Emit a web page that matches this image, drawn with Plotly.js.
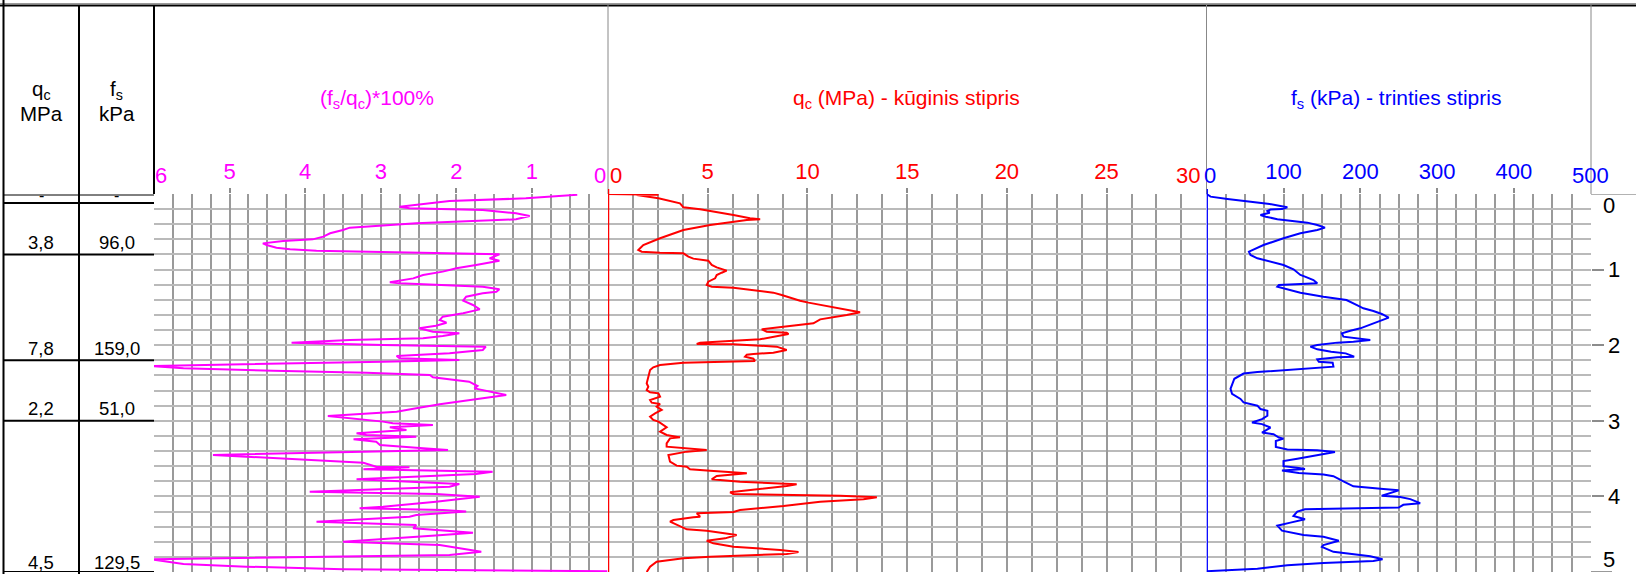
<!DOCTYPE html>
<html><head><meta charset="utf-8">
<script src="https://cdn.plot.ly/plotly-3.0.1.min.js"></script>
<style>html,body{margin:0;padding:0;background:#fff;}#chart{width:1636px;height:574px;}</style>
</head><body><div id="chart"></div>
<script>
// ---------------- DATA ----------------
// friction ratio (fs/qc)*100 %
const ratioDepth = [0.01,0.057,0.093,0.123,0.146,0.168,0.19,0.212,0.256,0.291,
  0.335,0.353,0.388,0.445,0.476,0.52,0.564,0.60,0.622,0.653,
  0.675,0.71,0.732,0.75,0.776,0.798,0.851,0.882,0.939,0.983,
  1.027,1.071,1.116,1.168,1.182,1.204,1.226,1.261,1.292,1.314,
  1.358,1.411,1.468,1.526,1.578,1.623,1.667,1.702,1.742,1.777,
  1.821,1.843,1.878,1.909,1.931,1.966,1.997,2.019,2.063,2.108,
  2.143,2.174,2.196,2.218,2.24,2.275,2.306,2.31,2.337,2.363,
  2.394,2.425,2.482,2.54,2.571,2.637,2.659,2.703,2.76,2.78,
  2.835,2.879,2.937,2.98,3.011,3.033,3.056,3.086,3.122,3.166,
  3.188,3.21,3.245,3.276,3.32,3.364,3.386,3.452,3.474,3.52,
  3.554,3.607,3.616,3.642,3.673,3.704,3.774,3.836,3.871,3.937,
  3.968,4.004,4.07,4.136,4.158,4.18,4.20,4.246,4.268,4.334,
  4.378,4.422,4.48,4.511,4.599,4.643,4.731,4.775,4.832,4.894,
  4.929,4.965,4.99];
const ratioValue = [0.40,1.08,2.09,2.35,2.57,2.75,2.62,1.65,1.21,1.03,
  1.21,1.65,2.53,3.41,3.50,3.67,3.76,3.90,4.29,4.56,
  4.51,4.38,4.20,3.85,2.53,1.43,1.56,1.43,1.74,2.00,
  2.18,2.44,2.57,2.88,2.75,2.09,1.65,1.43,1.47,1.65,
  1.87,1.91,1.78,1.69,1.91,2.18,2.22,2.13,2.27,2.49,
  2.31,1.96,2.18,2.44,3.41,4.18,2.97,1.61,1.65,2.09,
  2.79,2.75,1.96,2.97,4.29,6.05,5.61,5.37,4.42,3.19,
  2.35,2.31,1.83,1.72,1.76,1.47,1.34,1.65,2.09,2.22,
  2.53,2.79,3.70,3.23,2.97,2.84,2.31,2.88,2.66,3.32,
  3.19,2.53,3.36,3.06,3.01,2.44,2.11,5.22,4.82,3.94,
  3.23,3.06,2.62,3.23,1.52,1.74,3.32,1.96,2.09,3.94,
  2.27,1.69,2.27,2.97,3.28,2.18,1.87,2.53,2.62,3.85,
  2.53,2.57,1.78,2.18,3.50,2.22,1.67,2.09,6.05,5.61,
  4.78,3.50,0];

// cone resistance qc (MPa)
const qcDepth = [0,0.01,0.013,0.057,0.123,0.176,0.203,0.278,0.322,0.335,
  0.344,0.41,0.476,0.586,0.675,0.741,0.763,0.776,0.785,0.829,
  0.855,0.882,0.939,0.97,1.014,1.041,1.071,1.116,1.16,1.204,
  1.226,1.239,1.27,1.305,1.336,1.38,1.411,1.437,1.499,1.543,
  1.565,1.601,1.658,1.711,1.742,1.768,1.79,1.821,1.834,1.852,
  1.887,1.922,1.94,1.966,1.984,1.989,2.006,2.019,2.063,2.099,
  2.116,2.125,2.152,2.178,2.209,2.212,2.218,2.231,2.262,2.293,
  2.328,2.416,2.504,2.549,2.593,2.623,2.637,2.681,2.725,2.76,
  2.778,2.813,2.857,2.901,2.945,2.989,3.011,3.086,3.113,3.144,
  3.188,3.219,3.232,3.298,3.342,3.364,3.386,3.408,3.452,3.541,
  3.593,3.607,3.642,3.66,3.695,3.73,3.774,3.805,3.827,3.84,
  3.862,3.915,3.946,3.968,3.977,3.99,4.012,4.039,4.07,4.127,
  4.18,4.206,4.224,4.268,4.277,4.312,4.334,4.378,4.436,4.453,
  4.489,4.511,4.555,4.586,4.621,4.665,4.709,4.735,4.762,4.775,
  4.797,4.819,4.863,4.929,5.0];
const qcValue = [0,2.53,1.44,2.53,3.61,3.78,4.62,6.29,7.12,7.63,
  6.96,5.12,3.78,2.61,1.77,1.52,1.69,2.61,3.78,4.03,
  4.28,5.03,5.20,5.45,5.95,5.70,5.45,5.37,5.03,4.95,
  5.20,6.29,7.29,8.29,8.71,9.21,9.63,10.05,11.30,12.31,
  12.64,11.97,10.64,10.30,9.30,8.63,7.71,7.96,8.96,9.05,
  8.29,7.63,6.29,4.62,4.45,6.29,7.63,8.46,8.96,8.29,
  7.29,6.96,6.87,7.29,7.37,6.79,5.62,3.78,2.61,2.27,
  2.11,2.02,1.94,2.02,1.94,2.11,2.53,2.61,2.11,2.19,
  2.61,2.44,2.69,2.36,2.11,2.27,2.53,2.94,2.78,2.61,
  2.94,3.61,3.11,2.94,2.94,3.95,4.95,3.95,3.03,3.11,
  3.44,3.95,4.11,5.12,6.96,5.45,5.20,6.62,8.80,9.46,
  8.96,6.96,6.12,6.29,9.63,11.64,13.48,12.81,10.64,8.80,
  6.62,6.29,4.45,4.62,4.28,3.28,3.11,3.44,3.95,4.95,
  5.95,6.45,5.87,4.95,5.28,6.29,8.63,9.55,8.96,7.12,
  5.12,3.78,2.44,2.11,1.94];

// sleeve friction fs (kPa)
const fsDepth = [0,0.035,0.066,0.11,0.132,0.159,0.176,0.2,0.205,0.225,
  0.247,0.278,0.3,0.335,0.353,0.379,0.41,0.445,0.476,0.52,
  0.586,0.675,0.763,0.807,0.851,0.895,0.939,0.996,1.071,1.093,
  1.116,1.138,1.182,1.19,1.204,1.226,1.248,1.305,1.358,1.402,
  1.468,1.512,1.548,1.587,1.636,1.675,1.724,1.777,1.808,1.843,
  1.887,1.9,1.931,1.953,1.966,1.997,2.019,2.055,2.086,2.108,
  2.152,2.16,2.187,2.218,2.231,2.284,2.306,2.328,2.355,2.375,
  2.405,2.444,2.578,2.644,2.711,2.756,2.8,2.844,2.867,2.933,
  2.978,3.022,3.044,3.089,3.156,3.178,3.222,3.236,3.267,3.347,
  3.378,3.391,3.413,3.458,3.502,3.533,3.6,3.622,3.636,3.658,
  3.689,3.711,3.733,3.8,3.867,3.902,3.92,3.991,4.009,4.036,
  4.089,4.111,4.147,4.169,4.2,4.258,4.302,4.347,4.387,4.453,
  4.511,4.533,4.587,4.644,4.667,4.733,4.764,4.791,4.831,4.853,
  4.88,4.911,4.956,4.978,4.99];
const fsValue = [0,5,27,66,82,96,105,98,83,79,
  82,70,77,92,109,131,144,154,144,122,
  100,74,55,57,66,82,100,113,122,128,
  135,139,144,118,94,92,100,122,152,182,
  195,204,217,228,237,226,213,200,187,176,
  178,191,213,191,170,144,135,144,162,181,
  192,170,144,146,164,165,131,96,66,48,
  42,36,31,33,44,48,66,70,79,79,
  72,59,72,83,72,87,94,100,90,90,
  105,144,167,144,118,100,100,118,128,98,
  120,152,165,178,191,230,250,228,252,265,
  278,256,250,128,118,113,128,109,92,98,
  126,152,172,152,150,165,191,213,229,217,
  152,105,66,23,0];

// tick labels
const ratioTicks = [0,1,2,3,4,5,6];
const qcTicks = [0,5,10,15,20,25,30];
const fsTicks = [0,100,200,300,400,500];
const depthTicks = [0,1,2,3,4,5];

// soil layer table
const layerTop = [0.12,0.8,2.2,3.0];
const layerBottom = [0.8,2.2,3.0,5.0];
const layerQc = ["3,8","7,8","2,2","4,5"];
const layerFs = ["96,0","159,0","51,0","129,5"];

// ---------------- STYLE / LAYOUT ----------------
const W = 1636, H = 574;
const FONT = 'Liberation Sans, Arial, Helvetica, sans-serif';
const PINK = '#FF00FF', RED = '#FF0000', BLUE = '#0000FF';
const GRIDV = '#9a9a9a', GRIDH = '#bababa', TICKC = '#8c8c8c';
const TICKSIZE = 22;
const px = x => x / W;
const py = y => 1 - y / H;
const Y_TOP = 194, Y_BOT = 572;

// interior ticks carry axis labels; edge labels are annotations (shifted like the original)
function xAxis(dom, range, ticks, minorStep, color) {
  const inner = ticks.slice(1, -1);
  return {
    domain: dom, range: range, anchor: 'y', side: 'top',
    tickmode: 'array', tickvals: inner, ticktext: inner.map(String),
    ticks: 'outside', ticklen: 5, tickwidth: 2, tickcolor: TICKC,
    tickfont: {family: FONT, size: TICKSIZE, color: color},
    showgrid: true, gridcolor: GRIDV, gridwidth: 2,
    minor: {tickmode: 'linear', tick0: 0, dtick: minorStep, showgrid: true, gridcolor: GRIDV, gridwidth: 2},
    zeroline: false, showline: false, fixedrange: true
  };
}

const traces = [
  {x: ratioValue, y: ratioDepth, xaxis: 'x', yaxis: 'y', type: 'scatter', mode: 'lines',
   line: {color: PINK, width: 2}, hoverinfo: 'skip', name: '(fs/qc)*100%'},
  {x: qcValue, y: qcDepth, xaxis: 'x2', yaxis: 'y', type: 'scatter', mode: 'lines',
   line: {color: RED, width: 2}, hoverinfo: 'skip', name: 'qc'},
  {x: fsValue, y: fsDepth, xaxis: 'x3', yaxis: 'y', type: 'scatter', mode: 'lines',
   line: {color: BLUE, width: 2}, hoverinfo: 'skip', name: 'fs'}
];

const shapes = [];
function pline(x0, y0, x1, y1, color, width) {
  shapes.push({type: 'line', xref: 'paper', yref: 'paper', x0: px(x0), x1: px(x1), y0: py(y0), y1: py(y1),
    line: {color: color, width: width}});
}
// header frame
pline(0, 3.5, W, 3.5, '#999', 1);
pline(0, 5.5, W, 5.5, '#000', 2);
pline(3.5, 0, 3.5, H, '#000', 2);
pline(79, 5, 79, H, '#000', 2);
pline(154, 5, 154, Y_TOP, '#000', 2);
pline(608, 5, 608, Y_TOP, '#888', 1);
pline(1206.5, 5, 1206.5, Y_TOP, '#888', 1);
pline(1591, 5, 1591, Y_TOP, '#888', 1);
pline(3, 195, 154, 195, '#000', 1);
// axis lines of qc and fs
shapes.push({type: 'line', xref: 'x2', yref: 'paper', x0: 0, x1: 0, y0: py(Y_BOT), y1: py(189), line: {color: RED, width: 2.5}});
shapes.push({type: 'line', xref: 'x3', yref: 'paper', x0: 0, x1: 0, y0: py(Y_BOT), y1: py(189), line: {color: BLUE, width: 2.5}});
// depth 0 line extended to the right edge, bottom tick
shapes.push({type: 'line', xref: 'paper', yref: 'y', x0: px(1591), x1: 1, y0: 0, y1: 0, line: {color: '#999', width: 1.5}});
shapes.push({type: 'line', xref: 'paper', yref: 'y', x0: px(1591), x1: px(1612), y0: 5, y1: 5, line: {color: '#999', width: 2}});
// table layer boundaries
[layerTop[0]].concat(layerBottom).forEach(d => {
  shapes.push({type: 'line', xref: 'paper', yref: 'y', x0: px(3), x1: px(154), y0: d, y1: d, line: {color: '#000', width: 2}});
});

const annotations = [];
function ann(o) {
  annotations.push(Object.assign({showarrow: false, font: {family: FONT, size: 18.5, color: '#000'}}, o));
}
// titles
const TSIZE = 21;
ann({text: '(f<sub>s</sub>/q<sub>c</sub>)*100%', xref: 'paper', yref: 'paper', x: px(377), y: py(99), xanchor: 'center', yanchor: 'middle', font: {family: FONT, size: TSIZE, color: PINK}});
ann({text: 'q<sub>c</sub> (MPa) - kūginis stipris', xref: 'paper', yref: 'paper', x: px(906), y: py(99), xanchor: 'center', yanchor: 'middle', font: {family: FONT, size: TSIZE, color: RED}});
ann({text: 'f<sub>s</sub> (kPa) - trinties stipris', xref: 'paper', yref: 'paper', x: px(1396), y: py(99), xanchor: 'center', yanchor: 'middle', font: {family: FONT, size: TSIZE, color: BLUE}});
// table header
const HSIZE = 20.5;
ann({text: 'q<sub>c</sub>', xref: 'paper', yref: 'paper', x: px(41), y: py(90), xanchor: 'center', yanchor: 'middle', font: {family: FONT, size: HSIZE, color: '#000'}});
ann({text: 'MPa', xref: 'paper', yref: 'paper', x: px(41), y: py(113), xanchor: 'center', yanchor: 'middle', font: {family: FONT, size: HSIZE, color: '#000'}});
ann({text: 'f<sub>s</sub>', xref: 'paper', yref: 'paper', x: px(116.5), y: py(90), xanchor: 'center', yanchor: 'middle', font: {family: FONT, size: HSIZE, color: '#000'}});
ann({text: 'kPa', xref: 'paper', yref: 'paper', x: px(116.5), y: py(113), xanchor: 'center', yanchor: 'middle', font: {family: FONT, size: HSIZE, color: '#000'}});
ann({text: '-', xref: 'paper', yref: 'paper', x: px(41), y: py(206), xanchor: 'center', yanchor: 'bottom', font: {family: FONT, size: 16, color: '#000'}});
ann({text: '-', xref: 'paper', yref: 'paper', x: px(116.5), y: py(206), xanchor: 'center', yanchor: 'bottom', font: {family: FONT, size: 16, color: '#000'}});
// table values
layerBottom.forEach((d, i) => {
  const ys = i === layerBottom.length - 1 ? -3 : -0.5;
  ann({text: layerQc[i], xref: 'paper', yref: 'y', x: px(41), y: d, xanchor: 'center', yanchor: 'bottom', yshift: ys});
  ann({text: layerFs[i], xref: 'paper', yref: 'y', x: px(116.5), y: d, xanchor: 'center', yanchor: 'bottom', yshift: ys});
});
// edge tick labels (shifted so neighbouring scales do not collide, as in the original)
const tf = (c) => ({family: FONT, size: TICKSIZE, color: c});
const LBLY = py(175);
ann({text: String(ratioTicks[6]), xref: 'x', yref: 'paper', x: ratioTicks[6], y: LBLY, xanchor: 'left', yanchor: 'middle', font: tf(PINK), xshift: -1});
ann({text: String(ratioTicks[0]), xref: 'x', yref: 'paper', x: ratioTicks[0], y: LBLY, xanchor: 'right', yanchor: 'middle', font: tf(PINK), xshift: 0});
ann({text: String(qcTicks[0]), xref: 'x2', yref: 'paper', x: qcTicks[0], y: LBLY, xanchor: 'left', yanchor: 'middle', font: tf(RED), xshift: 0});
ann({text: String(qcTicks[6]), xref: 'x2', yref: 'paper', x: qcTicks[6], y: LBLY, xanchor: 'right', yanchor: 'middle', font: tf(RED), xshift: -4});
ann({text: String(fsTicks[0]), xref: 'x3', yref: 'paper', x: fsTicks[0], y: LBLY, xanchor: 'left', yanchor: 'middle', font: tf(BLUE), xshift: -5});
ann({text: String(fsTicks[5]), xref: 'x3', yref: 'paper', x: fsTicks[5], y: LBLY, xanchor: 'center', yanchor: 'middle', font: tf(BLUE)});
// depth edge labels
ann({text: String(depthTicks[0]), xref: 'paper', yref: 'paper', x: px(1601), y: py(205), xanchor: 'left', yanchor: 'middle', font: {family: FONT, size: TICKSIZE, color: '#000'}});
ann({text: String(depthTicks[5]), xref: 'paper', yref: 'paper', x: px(1601), y: py(559), xanchor: 'left', yanchor: 'middle', font: {family: FONT, size: TICKSIZE, color: '#000'}});

const layout = {
  width: W, height: H, margin: {l: 0, r: 0, t: 0, b: 0, pad: 0},
  paper_bgcolor: '#fff', plot_bgcolor: '#fff', showlegend: false,
  xaxis: xAxis([px(154), px(607.5)], [6, 0], ratioTicks, 0.25, PINK),
  xaxis2: xAxis([px(608), px(1206.3)], [0, 30], qcTicks, 1.25, RED),
  xaxis3: xAxis([px(1206.7), px(1590.7)], [0, 500], fsTicks, 25, BLUE),
  yaxis: {
    domain: [py(Y_BOT), py(Y_TOP)], range: [5, 0], anchor: 'x3', side: 'right',
    tickmode: 'array', tickvals: depthTicks.slice(1, -1), ticktext: depthTicks.slice(1, -1).map(String),
    ticks: 'outside', ticklen: 12, tickwidth: 2, tickcolor: TICKC,
    tickfont: {family: FONT, size: TICKSIZE, color: '#000'},
    showgrid: true, gridcolor: GRIDH, gridwidth: 2,
    minor: {tickmode: 'linear', tick0: 0, dtick: 0.2, showgrid: true, gridcolor: GRIDH, gridwidth: 2},
    zeroline: false, showline: false, fixedrange: true
  },
  shapes: shapes,
  annotations: annotations
};

Plotly.newPlot('chart', traces, layout, {displayModeBar: false, staticPlot: true});
</script>
</body></html>
